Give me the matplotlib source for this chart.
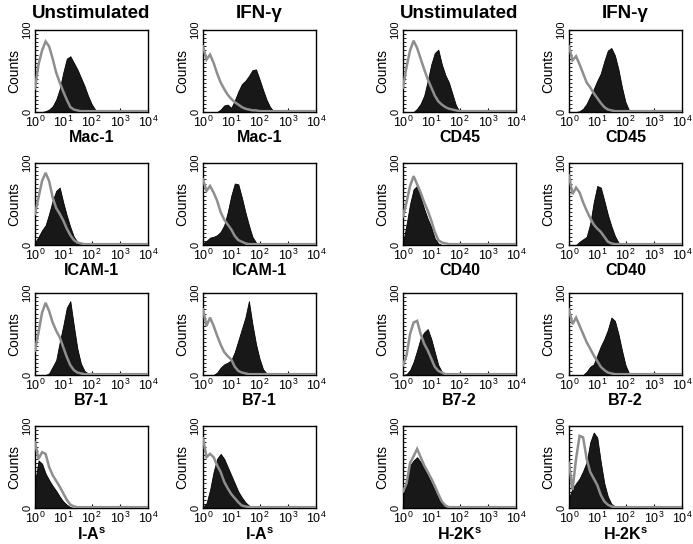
import numpy as np
import matplotlib
matplotlib.use("Agg")
import matplotlib.pyplot as plt
from matplotlib.ticker import FixedLocator, LogLocator, NullFormatter

plt.rcParams['font.family'] = ['Liberation Sans', 'DejaVu Sans']
plt.rcParams['mathtext.fontset'] = 'custom'
plt.rcParams['mathtext.rm'] = 'Liberation Sans'
plt.rcParams['mathtext.it'] = 'Liberation Sans:italic'
plt.rcParams['mathtext.bf'] = 'Liberation Sans:bold'

# log10 fluorescence positions of the histogram channels (0 .. 4, step 0.125)
log_channels = np.arange(33) * 0.125

column_titles = ["Unstimulated", "IFN-γ", "Unstimulated", "IFN-γ"]
x_tick_labels = [r"$10^0$", r"$10^1$", r"$10^2$", r"$10^3$", r"$10^4$"]
marker_labels = ["Mac-1", "Mac-1", "CD45", "CD45",
                 "ICAM-1", "ICAM-1", "CD40", "CD40",
                 "B7-1", "B7-1", "B7-2", "B7-2",
                 r"I-A$^{\mathbf{s}}$", r"I-A$^{\mathbf{s}}$", r"H-2K$^{\mathbf{s}}$", r"H-2K$^{\mathbf{s}}$"]

# control (grey outline) and stained (black filled) histograms, counts
mac1_u_ctrl = [29,58,75,86,80,65,48,36, 25,15,6,3,2,1,1,1, 1,1,1,1,1,1,1,1, 1,1,1,1,1,1,1,1, 1]
mac1_u_stain = [0,0,0,1,3,7,15,28, 48,65,68,60,52,42,32,20, 10,3,1,0,0,0,0,0, 0,0,0,0,0,0,0,0, 0]
mac1_i_ctrl = [80,64,70,60,47,36,28,21, 16,12,9,6,4,3,2,2, 1,1,1,1,1,1,1,1, 1,1,1,1,1,1,1,1, 1]
mac1_i_stain = [0,0,0,0,0,3,8,9, 5,14,25,34,38,44,51,52, 40,27,15,6,1,0,0,0, 0,0,0,0,0,0,0,0, 0]
cd45_u_ctrl = [30,55,75,87,78,65,52,40, 30,20,13,9,6,4,3,2, 1,1,1,1,1,1,1,1, 1,1,1,1,1,1,1,1, 1]
cd45_u_stain = [0,0,0,0,4,10,20,38, 58,72,76,58,45,36,22,8, 1,0,0,0,0,0,0,0, 0,0,0,0,0,0,0,0, 0]
cd45_i_ctrl = [80,63,68,58,47,36,30,23, 17,11,6,3,2,1,1,1, 1,1,1,1,1,1,1,1, 1,1,1,1,1,1,1,1, 1]
cd45_i_stain = [0,0,0,1,4,10,19,28, 38,47,62,75,78,69,52,30, 12,2,0,0,0,0,0,0, 0,0,0,0,0,0,0,0, 0]
icam_u_ctrl = [38,58,78,88,78,58,45,38, 30,20,12,6,3,2,1,1, 1,1,1,1,1,1,1,1, 1,1,1,1,1,1,1,1, 1]
icam_u_stain = [3,10,18,24,38,54,66,70, 52,36,22,10,4,2,1,1, 1,1,1,1,1,1,1,1, 1,0,0,0,0,0,0,0, 0]
icam_i_ctrl = [80,66,72,64,54,40,31,25, 19,11,6,4,2,1,1,1, 1,1,1,1,1,1,1,1, 1,1,1,1,1,1,1,1, 1]
icam_i_stain = [2,5,9,10,12,16,24,40, 60,75,74,58,40,24,10,3, 1,0,0,0,0,0,0,0, 0,0,0,0,0,0,0,0, 0]
cd40_u_ctrl = [35,52,72,84,74,64,52,42, 30,16,6,3,2,1,1,1, 1,1,1,1,1,1,1,1, 1,1,1,1,1,1,1,1, 1]
cd40_u_stain = [2,25,50,68,72,58,44,32, 22,8,2,0,0,0,0,0, 0,0,0,0,0,0,0,0, 0,0,0,0,0,0,0,0, 0]
cd40_i_ctrl = [85,62,70,64,52,42,33,25, 20,16,10,4,2,1,1,1, 1,1,1,1,1,1,1,1, 1,1,1,1,1,1,1,1, 1]
cd40_i_stain = [0,0,0,4,7,10,26,52, 72,70,54,37,23,11,3,1, 0,0,0,0,0,0,0,0, 0,0,0,0,0,0,0,0, 0]
b71_u_ctrl = [30,52,76,88,78,64,54,46, 34,22,12,6,3,2,1,1, 1,1,1,1,1,1,1,1, 1,1,1,1,1,1,1,1, 1]
b71_u_stain = [0,0,0,0,2,10,18,40, 60,82,90,60,32,14,5,2, 1,0,0,0,0,0,0,0, 0,0,0,0,0,0,0,0, 0]
b71_i_ctrl = [80,60,70,60,48,37,28,23, 19,10,5,3,2,1,1,1, 1,1,1,1,1,1,1,1, 1,1,1,1,1,1,1,1, 1]
b71_i_stain = [0,0,0,0,3,9,13,15, 18,28,42,56,70,90,62,38, 20,7,2,0,0,0,0,0, 0,0,0,0,0,0,0,0, 0]
b72_u_ctrl = [12,24,50,64,66,50,38,30, 20,10,5,3,1,1,1,1, 1,1,1,1,1,1,1,1, 1,1,1,1,1,1,1,1, 1]
b72_u_stain = [0,1,6,16,30,45,52,56, 44,28,12,4,1,0,0,0, 0,0,0,0,0,0,0,0, 0,0,0,0,0,0,0,0, 0]
b72_i_ctrl = [80,62,70,60,50,40,32,24, 17,10,6,3,2,1,1,1, 1,1,1,1,1,1,1,1, 1,1,1,1,1,1,1,1, 1]
b72_i_stain = [0,0,0,0,0,4,10,13, 24,35,44,55,70,66,50,30, 12,2,0,0,0,0,0,0, 0,0,0,0,0,0,0,0, 0]
ias_u_ctrl = [80,60,68,66,50,40,33,26, 18,10,4,2,1,1,1,1, 1,1,1,1,1,1,1,1, 1,1,1,1,1,1,1,1, 1]
ias_u_stain = [30,58,54,42,34,27,21,14, 8,4,1,0,0,0,0,0, 0,0,0,0,0,0,0,0, 0,0,0,0,0,0,0,0, 0]
ias_i_ctrl = [85,62,66,62,52,44,32,24, 17,12,7,3,2,1,1,1, 1,1,1,1,1,1,1,1, 1,1,1,1,1,1,1,1, 1]
ias_i_stain = [1,6,22,44,60,66,60,50, 40,30,20,13,7,3,1,0, 0,0,0,0,0,0,0,0, 0,0,0,0,0,0,0,0, 0]
h2k_u_ctrl = [20,30,55,63,72,62,52,44, 36,27,17,8,3,1,1,1, 1,1,1,1,1,1,1,1, 1,1,1,1,1,1,1,1, 1]
h2k_u_stain = [12,34,52,58,62,56,48,40, 31,22,13,6,2,0,0,0, 0,0,0,0,0,0,0,0, 0,0,0,0,0,0,0,0, 0]
h2k_i_ctrl = [55,22,60,88,86,60,44,36, 28,16,8,4,2,1,1,1, 1,1,1,1,1,1,1,1, 1,1,1,1,1,1,1,1, 1]
h2k_i_stain = [12,24,30,36,45,56,80,92, 86,56,30,14,5,2,0,0, 0,0,0,0,0,0,0,0, 0,0,0,0,0,0,0,0, 0]

panels = [
    (mac1_u_ctrl, mac1_u_stain), (mac1_i_ctrl, mac1_i_stain), (cd45_u_ctrl, cd45_u_stain), (cd45_i_ctrl, cd45_i_stain),
    (icam_u_ctrl, icam_u_stain), (icam_i_ctrl, icam_i_stain), (cd40_u_ctrl, cd40_u_stain), (cd40_i_ctrl, cd40_i_stain),
    (b71_u_ctrl, b71_u_stain), (b71_i_ctrl, b71_i_stain), (b72_u_ctrl, b72_u_stain), (b72_i_ctrl, b72_i_stain),
    (ias_u_ctrl, ias_u_stain), (ias_i_ctrl, ias_i_stain), (h2k_u_ctrl, h2k_u_stain), (h2k_i_ctrl, h2k_i_stain),
]

W, H = 693, 544
fig = plt.figure(figsize=(W / 100, H / 100), dpi=100)
fig.patch.set_facecolor("white")

col_left = [35, 203, 403, 569]
row_top = [30, 163, 293, 426]
aw, ah = 113, 82

x = 10 ** log_channels
for i, (ctrl, stain) in enumerate(panels):
    r, c = divmod(i, 4)
    ax = fig.add_axes([col_left[c] / W, 1 - (row_top[r] + ah) / H, aw / W, ah / H])
    ax.fill_between(x, 0, stain, color="#181818", lw=0.6, edgecolor="#000000", zorder=2)
    ax.plot(x, ctrl, color="#8e8e8e", lw=1.8, zorder=3, solid_joinstyle="miter")
    ax.set_xscale("log")
    ax.set_xlim(1, 1e4)
    ax.set_ylim(0, 100)
    ax.set_xticks([1, 10, 100, 1000, 10000])
    ax.set_xticklabels(x_tick_labels, fontsize=9)
    ax.xaxis.set_minor_locator(LogLocator(base=10, subs=np.arange(2, 10)))
    ax.xaxis.set_minor_formatter(NullFormatter())
    ax.set_yticks([0, 100])
    ax.set_yticklabels(["0", "100"], fontsize=8, rotation=90, va="center")
    ax.yaxis.set_minor_locator(FixedLocator(np.arange(0, 100, 5)))
    ax.tick_params(axis="both", which="major", direction="in", length=3, width=0.8, pad=2)
    ax.tick_params(axis="both", which="minor", direction="in", length=2, width=0.6)
    ax.tick_params(axis="x", which="major", pad=2)
    for s in ax.spines.values():
        s.set_linewidth(1.0)
        s.set_color("black")
    ax.set_ylabel("Counts", fontsize=10, labelpad=1)
    ax.set_xlabel(marker_labels[i], fontsize=11.5, fontweight="bold", labelpad=0)
    if r == 0:
        ax.set_title(column_titles[c], fontsize=13.5, fontweight="bold", pad=9)

fig.savefig("out.png", dpi=100, facecolor="white")
